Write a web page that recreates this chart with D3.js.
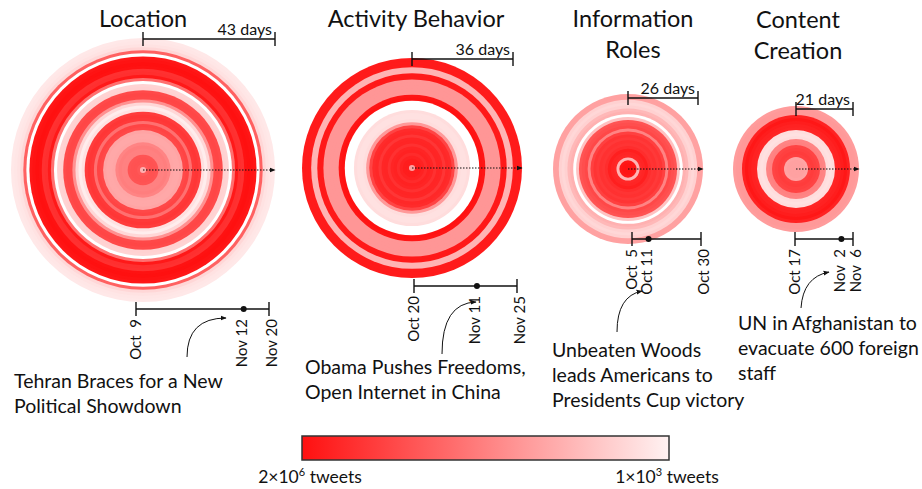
<!DOCTYPE html>
<html><head><meta charset="utf-8">
<script src="https://cdn.jsdelivr.net/npm/d3@7"></script>
<style>
body{margin:0;background:#fff;}
svg text{font-family:Lato,"Open Sans",sans-serif;fill:#111;}
</style></head><body>
<svg id="chart" width="922" height="489"></svg>
<script>
// ---------------- data ----------------
const chartTitles = [["Location"], ["Activity Behavior"], ["Information", "Roles"], ["Content", "Creation"]];
const spanLabels = ["43 days", "36 days", "26 days", "21 days"];
const startDates = ["2009-10-09", "2009-10-20", "2009-10-05", "2009-10-17"];
const endDates = ["2009-11-20", "2009-11-25", "2009-10-30", "2009-11-06"];
const peakDates = ["2009-11-12", "2009-11-11", "2009-10-11", "2009-11-02"];
const tickLabels = [
  ["Oct  9", "Nov 12", "Nov 20"],
  ["Oct 20", "Nov 11", "Nov 25"],
  ["Oct  5", "Oct 11", "Oct 30"],
  ["Oct 17", "Nov  2", "Nov  6"]
];
const headlines = [
  ["Tehran Braces for a New", "Political Showdown"],
  ["Obama Pushes Freedoms,", "Open Internet in China"],
  ["Unbeaten Woods", "leads Americans to", "Presidents Cup victory"],
  ["UN in Afghanistan to", "evacuate 600 foreign", "staff"]
];
// tweets per day, innermost ring = first day
const locationTweets = [9000, 180000, 220000, 220000, 200000, 45000, 45000, 50000, 40000, 13000,
  12000, 12000, 14000, 300000, 350000, 80000, 500000, 550000, 450000, 1800,
  1200, 2500, 26000, 300000, 320000, 280000, 3000, 2800, 400, 80000,
  1500000, 700000, 650000, 1900000, 2000000, 1800000, 1600000, 400, 130000, 2500,
  1700, 1500, 1400];
const activityTweets = [15000, 1300000, 1300000, 1100000, 800000, 1100000, 1000000, 650000, 1000000, 950000,
  550000, 900000, 800000, 350000, 20000, 2000, 1800, 1800, 2000, 300,
  300, 300, 1900000, 1700000, 22000, 22000, 22000, 22000, 22000, 1500000,
  1500000, 8000, 8000, 1400000, 1400000, 1400000];
const infoTweets = [1800000, 1800000, 1600000, 8000, 900000, 1000000, 1200000, 750000, 600000, 650000,
  500000, 600000, 400000, 40000, 300000, 250000, 200000, 5000, 300, 9000,
  7000, 3000, 2500, 3000, 15000, 15000];
const contentTweets = [15000, 15000, 15000, 14000, 400000, 450000, 400000, 350000, 45000, 40000,
  2000, 1800, 2000, 1000000, 1100000, 1300000, 1600000, 1100000, 20000, 20000,
  18000];
const seriesTweets = [locationTweets, activityTweets, infoTweets, contentTweets];
const legendExtent = [2e6, 1e3];

// ---------------- layout (positions only) ----------------
const layout = [
  {cx: 143, cy: 170, R: 132, barY: 39, barW: 132, tlX: 136, tlW: 133, tlY: 309, titleX: 143, titleY: 27,
   headX: 14, headY: 388, arrow: [187, 357, 187, 318, 226, 318]},
  {cx: 412, cy: 168, R: 110, barY: 59, barW: 101, tlX: 414, tlW: 103, tlY: 286, titleX: 416, titleY: 27,
   headX: 305, headY: 374, arrow: [442, 354, 442, 303, 476, 302]},
  {cx: 628, cy: 169, R: 75, barY: 98, barW: 70, tlX: 632, tlW: 69, tlY: 239, titleX: 633, titleY: 27,
   headX: 552, headY: 357, arrow: [617, 332, 617, 296, 642, 291]},
  {cx: 796, cy: 169, R: 63, barY: 109, barW: 57, tlX: 795, tlW: 58, tlY: 239, titleX: 798, titleY: 28,
   headX: 738, headY: 330, arrow: [801, 308, 803, 277, 829, 272]}
];
const labelDy = ["0.35em", "0.22em", "0.5em"];

const svg = d3.select("#chart");
const defs = svg.append("defs");
defs.append("marker").attr("id", "ah").attr("viewBox", "0 0 10 10")
  .attr("refX", 9).attr("refY", 5).attr("markerWidth", 6).attr("markerHeight", 6)
  .attr("orient", "auto").attr("markerUnits", "userSpaceOnUse")
  .append("path").attr("d", "M0,1 L10,5 L0,9 Z").attr("fill", "#111");

const color = d3.scaleLog().domain(legendExtent).range(["#ff1010", "#fff2f2"])
  .interpolate(d3.interpolateRgb);
const parse = d3.timeParse("%Y-%m-%d");
const nbsp = s => s.replace(/ /g, "\u00a0");

layout.forEach((L, k) => {
  const vals = seriesTweets[k];
  const n = vals.length;
  const r = d3.scaleLinear().domain([0, n]).range([0, L.R]);
  const g = svg.append("g");
  const rings = vals.map((v, i) => ({day: i + 1, v})).reverse();
  g.selectAll("circle.ring").data(rings).join("circle").attr("class", "ring")
    .attr("cx", L.cx).attr("cy", L.cy).attr("r", d => r(d.day))
    .attr("fill", d => color(d.v));

  // dotted radial arrow
  g.append("line").attr("x1", L.cx).attr("y1", L.cy).attr("x2", L.cx + r(n)).attr("y2", L.cy)
    .attr("stroke", "#111").attr("stroke-width", 1).attr("stroke-dasharray", "1.5,1.5")
    .attr("marker-end", "url(#ah)");

  // titles
  chartTitles[k].forEach((t, j) => {
    svg.append("text").attr("x", L.titleX)
      .attr("y", L.titleY + j * 31).attr("text-anchor", "middle")
      .attr("font-size", 23.5).text(t);
  });

  // span bar at top
  const bar = svg.append("g");
  bar.append("line").attr("x1", L.cx).attr("x2", L.cx + L.barW).attr("y1", L.barY).attr("y2", L.barY)
    .attr("stroke", "#111").attr("stroke-width", 1.4);
  [L.cx, L.cx + L.barW].forEach(x => bar.append("line").attr("x1", x).attr("x2", x)
    .attr("y1", L.barY - 7).attr("y2", L.barY + 7).attr("stroke", "#111").attr("stroke-width", 1.4));
  bar.append("text").attr("x", L.cx + L.barW - 3).attr("y", L.barY - 4)
    .attr("text-anchor", "end").attr("font-size", 16).text(spanLabels[k]);

  // timeline
  const t0 = parse(startDates[k]), t1 = parse(endDates[k]), tp = parse(peakDates[k]);
  const x = d3.scaleTime().domain([t0, t1]).range([L.tlX, L.tlX + L.tlW]);
  const tl = svg.append("g");
  tl.append("line").attr("x1", x(t0)).attr("x2", x(t1)).attr("y1", L.tlY).attr("y2", L.tlY)
    .attr("stroke", "#111").attr("stroke-width", 1.4);
  [t0, t1].forEach(d => tl.append("line").attr("x1", x(d)).attr("x2", x(d))
    .attr("y1", L.tlY - 7).attr("y2", L.tlY + 7).attr("stroke", "#111").attr("stroke-width", 1.4));
  tl.append("circle").attr("cx", x(tp)).attr("cy", L.tlY).attr("r", 3).attr("fill", "#111");
  [t0, tp, t1].forEach((d, j) => {
    tl.append("text").attr("transform", `translate(${x(d)},${L.tlY + 10}) rotate(-90)`)
      .attr("text-anchor", "end").attr("dy", labelDy[j]).attr("font-size", 15)
      .text(nbsp(tickLabels[k][j]));
  });

  // headline + curved arrow
  const a = L.arrow;
  svg.append("path").attr("d", `M${a[0]},${a[1]} Q${a[2]},${a[3]} ${a[4]},${a[5]}`)
    .attr("fill", "none").attr("stroke", "#111").attr("stroke-width", 1)
    .attr("marker-end", "url(#ah)");
  headlines[k].forEach((line, j) => {
    svg.append("text").attr("x", L.headX).attr("y", L.headY + j * 25)
      .attr("font-size", 19.5).text(line);
  });
});

// ---------------- legend ----------------
const lg = defs.append("linearGradient").attr("id", "lg").attr("x1", "0%").attr("x2", "100%");
d3.range(0, 11).forEach(i => {
  const v = legendExtent[0] * Math.pow(legendExtent[1] / legendExtent[0], i / 10);
  lg.append("stop").attr("offset", (i * 10) + "%").attr("stop-color", color(v));
});
const legX = d3.scaleLog().domain(legendExtent).range([302, 669]);
svg.append("rect").attr("x", legX(legendExtent[0])).attr("y", 436)
  .attr("width", legX(legendExtent[1]) - legX(legendExtent[0])).attr("height", 24)
  .attr("fill", "url(#lg)").attr("stroke", "#333").attr("stroke-width", 1.5);
const legendLabels = [["2×10", "6"], ["1×10", "3"]];
legendExtent.forEach((v, i) => {
  const t = svg.append("text").attr("x", legX(v) + (i === 0 ? 8 : -2)).attr("y", 483)
    .attr("text-anchor", "middle").attr("font-size", 17.5);
  t.append("tspan").text(legendLabels[i][0]);
  t.append("tspan").attr("font-size", 11).attr("dy", -7).text(legendLabels[i][1]);
  t.append("tspan").attr("dy", 7).text(" tweets");
});
</script>
</body></html>
